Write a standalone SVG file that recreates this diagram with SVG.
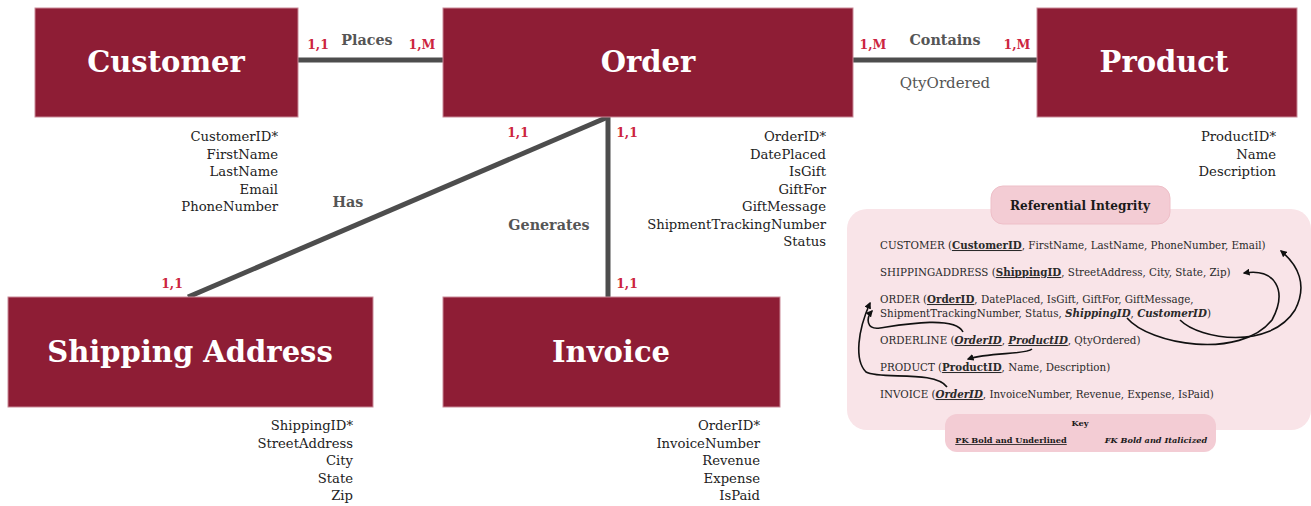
<svg xmlns="http://www.w3.org/2000/svg" width="1311" height="506" viewBox="0 0 1311 506">
  <defs>
    <style>
      text { font-family: "DejaVu Serif", "Liberation Serif", serif; }
      .entity { fill: #8e1d35; stroke: #c98a98; stroke-width: 1; }
      .title { fill: #ffffff; font-weight: bold; font-size: 29px; text-anchor: middle; }
      .attr { fill: #222222; font-size: 13.2px; text-anchor: end; }
      .card { fill: #cc2440; font-weight: bold; font-size: 12.5px; text-anchor: middle; }
      .rel { fill: #555555; font-weight: bold; font-size: 14.3px; text-anchor: middle; }
      .relattr { fill: #555555; font-size: 15px; text-anchor: middle; }
      .link { stroke: #4d4d4d; stroke-width: 5; fill: none; }
      .ri { fill: #2a2a2a; font-size: 10.3px; }
      .pk { font-weight: bold; text-decoration: underline; }
      .fk { font-weight: bold; font-style: italic; }
      .key { fill: #1a1a1a; font-size: 8.2px; text-anchor: middle; }
      .arrow { stroke: #111111; stroke-width: 1.6; fill: none; marker-end: url(#head); }
    </style>
    <marker id="head" viewBox="0 0 10 10" refX="8" refY="5" markerWidth="7" markerHeight="7" orient="auto-start-reverse" markerUnits="userSpaceOnUse">
      <path d="M0,0 L10,5 L0,10 z" fill="#111111"/>
    </marker>
  </defs>

  <!-- relationship lines -->
  <g id="connectors">
    <line class="link" x1="298" y1="60" x2="443" y2="60"/>
    <line class="link" x1="853" y1="60" x2="1037" y2="60"/>
    <line class="link" x1="608" y1="117" x2="188" y2="297"/>
    <line class="link" x1="608" y1="117" x2="608" y2="297"/>

    <text class="card" x="318" y="49">1,1</text>
    <text class="rel" x="367" y="45">Places</text>
    <text class="card" x="422" y="49">1,M</text>

    <text class="card" x="873" y="49">1,M</text>
    <text class="rel" x="945" y="45">Contains</text>
    <text class="card" x="1017" y="49">1,M</text>
    <text class="relattr" x="945" y="88">QtyOrdered</text>

    <text class="card" x="518" y="137">1,1</text>
    <text class="rel" x="348" y="207">Has</text>
    <text class="card" x="172" y="288">1,1</text>

    <text class="card" x="627" y="137">1,1</text>
    <text class="rel" x="549" y="230">Generates</text>
    <text class="card" x="627" y="288">1,1</text>
  </g>

  <g id="customer">
    <rect class="entity" x="35" y="8" width="263" height="109"/>
    <text class="title" x="166" y="72">Customer</text>
    <text class="attr" y="141"><tspan x="278">CustomerID*</tspan><tspan x="278" dy="17.5">FirstName</tspan><tspan x="278" dy="17.5">LastName</tspan><tspan x="278" dy="17.5">Email</tspan><tspan x="278" dy="17.5">PhoneNumber</tspan></text>
  </g>

  <g id="order">
    <rect class="entity" x="443" y="8" width="410" height="109"/>
    <text class="title" x="648" y="72">Order</text>
    <text class="attr" y="141"><tspan x="826">OrderID*</tspan><tspan x="826" dy="17.5">DatePlaced</tspan><tspan x="826" dy="17.5">IsGift</tspan><tspan x="826" dy="17.5">GiftFor</tspan><tspan x="826" dy="17.5">GiftMessage</tspan><tspan x="826" dy="17.5">ShipmentTrackingNumber</tspan><tspan x="826" dy="17.5">Status</tspan></text>
  </g>

  <g id="product">
    <rect class="entity" x="1037" y="8" width="260" height="109"/>
    <text class="title" x="1164" y="72">Product</text>
    <text class="attr" y="141"><tspan x="1276">ProductID*</tspan><tspan x="1276" dy="17.5">Name</tspan><tspan x="1276" dy="17.5">Description</tspan></text>
  </g>

  <g id="shipping-address">
    <rect class="entity" x="8" y="297" width="365" height="110"/>
    <text class="title" x="190" y="362">Shipping Address</text>
    <text class="attr" y="430"><tspan x="353">ShippingID*</tspan><tspan x="353" dy="17.5">StreetAddress</tspan><tspan x="353" dy="17.5">City</tspan><tspan x="353" dy="17.5">State</tspan><tspan x="353" dy="17.5">Zip</tspan></text>
  </g>

  <g id="invoice">
    <rect class="entity" x="443" y="297" width="337" height="110"/>
    <text class="title" x="611" y="362">Invoice</text>
    <text class="attr" y="430"><tspan x="760">OrderID*</tspan><tspan x="760" dy="17.5">InvoiceNumber</tspan><tspan x="760" dy="17.5">Revenue</tspan><tspan x="760" dy="17.5">Expense</tspan><tspan x="760" dy="17.5">IsPaid</tspan></text>
  </g>

  <!-- relational schema panel -->
  <g id="referential-integrity">
    <rect x="847" y="209" width="464" height="221" rx="20" fill="#f9e4e8"/>
    <rect x="991" y="186" width="179" height="38" rx="12" fill="#f3ccd4" stroke="#eebfc8" stroke-width="1"/>
    <text x="1080" y="210" text-anchor="middle" font-weight="bold" font-size="12.1" fill="#1a1a1a">Referential Integrity</text>

    <text class="ri" x="880" y="249">CUSTOMER (<tspan class="pk">CustomerID</tspan>, FirstName, LastName, PhoneNumber, Email)</text>
    <text class="ri" x="880" y="276">SHIPPINGADDRESS (<tspan class="pk">ShippingID</tspan>, StreetAddress, City, State, Zip)</text>
    <text class="ri" x="880" y="303">ORDER (<tspan class="pk">OrderID</tspan>, DatePlaced, IsGift, GiftFor, GiftMessage,</text>
    <text class="ri" x="880" y="317">ShipmentTrackingNumber, Status, <tspan class="fk">ShippingID</tspan>, <tspan class="fk">CustomerID</tspan>)</text>
    <text class="ri" x="880" y="344">ORDERLINE (<tspan class="pk fk">OrderID</tspan>, <tspan class="pk fk">ProductID</tspan>, QtyOrdered)</text>
    <text class="ri" x="880" y="371">PRODUCT (<tspan class="pk">ProductID</tspan>, Name, Description)</text>
    <text class="ri" x="880" y="398">INVOICE (<tspan class="pk fk">OrderID</tspan>, InvoiceNumber, Revenue, Expense, IsPaid)</text>

    <rect x="945" y="414" width="271" height="38" rx="12" fill="#f3ccd4"/>
    <text class="key" x="1080" y="426" font-weight="bold">Key</text>
    <text class="key pk" x="1011" y="443">PK Bold and Underlined</text>
    <text class="key fk" x="1156" y="443">FK Bold and Italicized</text>

    <!-- foreign key references -->
    <path class="arrow" d="M1180,320 C1200,340 1270,350 1295,310 C1308,285 1298,265 1281,251"/>
    <path class="arrow" d="M1127,318 C1150,345 1240,360 1272,320 C1288,290 1275,268 1244,273"/>
    <path class="arrow" d="M963,332 C955,315 900,325 880,328 C866,330 866,318 872,311"/>
    <path class="arrow" d="M947,387 C935,370 880,380 866,372 C854,360 858,330 870,303"/>
    <path class="arrow" d="M1032,349 C1025,355 990,352 968,359"/>
  </g>
</svg>
